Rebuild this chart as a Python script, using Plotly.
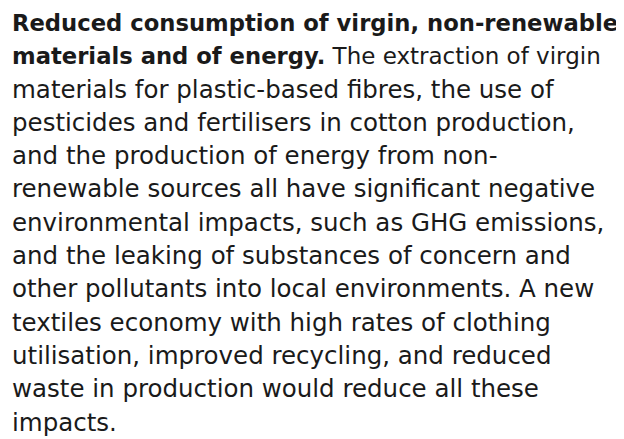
import plotly.graph_objects as go

W, H = 624, 439

# Paragraph lines: (bold part, regular part)
bold_parts = [
    "Reduced consumption of virgin, non-renewable",
    "materials and of energy.",
    "", "", "", "", "", "", "", "", "", "", "",
]
regular_parts = [
    "",
    "The extraction of virgin",
    "materials for plastic-based fibres, the use of",
    "pesticides and fertilisers in cotton production,",
    "and the production of energy from non-",
    "renewable sources all have significant negative",
    "environmental impacts, such as GHG emissions,",
    "and the leaking of substances of concern and",
    "other pollutants into local environments. A new",
    "textiles economy with high rates of clothing",
    "utilisation, improved recycling, and reduced",
    "waste in production would reduce all these",
    "impacts.",
]

FONT = "DejaVu Sans"
SIZE = 24.5
BOLD_SIZE = 22.7
MIXED_REG_SIZE = 23
LEFT = 2
TOP_CENTER = 14.5
STEP = 33.3

fig = go.Figure()
for i, (b, r) in enumerate(zip(bold_parts, regular_parts)):
    if b and r:
        txt = (f'<span style="font-size:{BOLD_SIZE}px"><b>{b}</b></span>'
               f'<span style="font-size:{MIXED_REG_SIZE}px"> {r}</span>')
    elif b:
        txt = f'<span style="font-size:{BOLD_SIZE}px"><b>{b}</b></span>'
    else:
        txt = r
    fig.add_annotation(
        x=LEFT / W, y=1 - (TOP_CENTER + i * STEP) / H,
        xref="paper", yref="paper",
        xanchor="left", yanchor="middle",
        text=txt, showarrow=False, align="left",
        font=dict(family=FONT, size=SIZE, color="#1a1a1a"),
    )

fig.update_layout(
    width=W, height=H,
    margin=dict(l=0, r=0, t=0, b=0),
    paper_bgcolor="white", plot_bgcolor="white",
    xaxis=dict(visible=False), yaxis=dict(visible=False),
    showlegend=False,
)
fig.write_html("out.html")
